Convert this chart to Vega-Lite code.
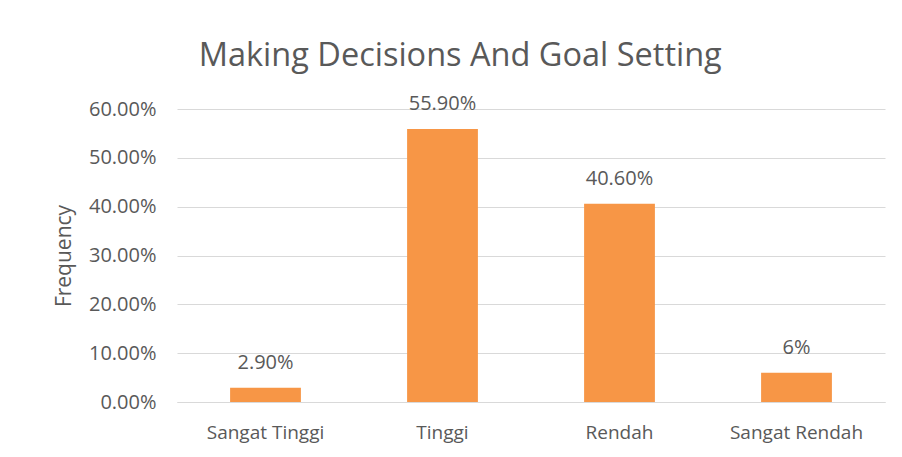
{
  "$schema": "https://vega.github.io/schema/vega-lite/v6.json",
  "width": 708,
  "height": 293,
  "autosize": "none",
  "padding": {"left": 177, "top": 109, "right": 17, "bottom": 55},
  "background": "white",
  "title": {
    "text": "Making Decisions And Goal Setting",
    "font": "Open Sans",
    "fontSize": 32.5,
    "fontWeight": "normal",
    "color": "#595959",
    "anchor": "middle",
    "frame": "bounds",
    "offset": 22,
    "dx": -9
  },
  "data": {
    "values": [
      {"category": "Sangat Tinggi", "value": 0.029, "label": "2.90%"},
      {"category": "Tinggi", "value": 0.559, "label": "55.90%"},
      {"category": "Rendah", "value": 0.406, "label": "40.60%"},
      {"category": "Sangat Rendah", "value": 0.06, "label": "6%"}
    ]
  },
  "encoding": {
    "x": {
      "field": "category",
      "type": "nominal",
      "sort": null,
      "scale": {"paddingInner": 0.6, "paddingOuter": 0.3},
      "axis": {
        "title": null,
        "labelAngle": 0,
        "ticks": false,
        "domainColor": "#d9d9d9",
        "labelFont": "Open Sans",
        "labelFontSize": 19,
        "labelColor": "#595959",
        "labelPadding": 21
      }
    },
    "y": {
      "field": "value",
      "type": "quantitative",
      "scale": {"domain": [0, 0.6]},
      "axis": {
        "title": "Frequency",
        "titleFont": "Open Sans",
        "titleFontSize": 21,
        "titleFontWeight": "normal",
        "titleColor": "#595959",
        "titlePadding": 14,
        "format": ".2%",
        "values": [0, 0.1, 0.2, 0.3, 0.4, 0.5, 0.6],
        "domain": false,
        "ticks": false,
        "gridColor": "#d9d9d9",
        "labelFont": "Open Sans",
        "labelFontSize": 20,
        "labelColor": "#595959",
        "labelPadding": 21
      }
    }
  },
  "layer": [
    {"mark": {"type": "bar", "color": "#F79646"}},
    {
      "mark": {
        "type": "text",
        "font": "Open Sans",
        "fontSize": 20,
        "color": "#595959",
        "baseline": "alphabetic",
        "dy": -19
      },
      "encoding": {"text": {"field": "label"}}
    }
  ],
  "config": {"view": {"stroke": null}}
}
